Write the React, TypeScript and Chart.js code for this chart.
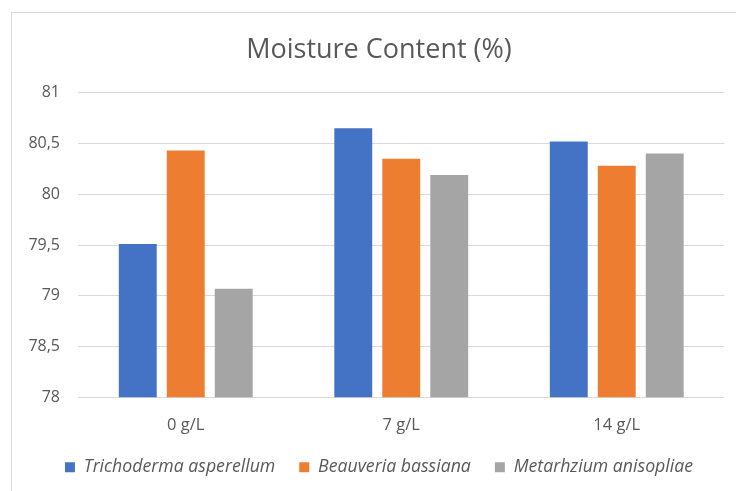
import React, { useEffect, useRef } from "react";
import { Chart, registerables } from "chart.js";

Chart.register(...registerables);

const categories = ["0 g/L", "7 g/L", "14 g/L"];
const seriesNames = ["Trichoderma asperellum", "Beauveria bassiana", "Metarhzium anisopliae"];
const trichoderma = [79.51, 80.65, 80.52];
const beauveria = [80.43, 80.35, 80.28];
const metarhizium = [79.07, 80.19, 80.4];
const seriesColors = ["#4472C4", "#ED7D31", "#A5A5A5"];
const yMin = 78;
const yMax = 81;
const yStep = 0.5;

const FONT = "'Open Sans', sans-serif";
const TEXT = "#595959";

export default function App() {
  const ref = useRef<HTMLCanvasElement | null>(null);

  useEffect(() => {
    if (!ref.current) return;
    const chart = new Chart(ref.current, {
      type: "bar",
      data: {
        labels: categories,
        datasets: [trichoderma, beauveria, metarhizium].map((d, i) => ({
          label: seriesNames[i],
          data: d,
          backgroundColor: seriesColors[i],
          borderWidth: 0,
          categoryPercentage: 0.668,
          barPercentage: 0.79,
        })),
      },
      options: {
        responsive: false,
        animation: false,
        layout: { padding: { left: 0, right: 0, top: 0, bottom: 26.8 } },
        plugins: {
          title: {
            display: true,
            text: "Moisture Content (%)",
            color: TEXT,
            font: { family: FONT, size: 27, weight: "normal", lineHeight: 1.2 },
            padding: { top: 20.8, bottom: 26.5 },
          },
          legend: {
            position: "bottom",
            labels: {
              boxWidth: 10,
              boxHeight: 10,
              padding: 24,
              color: TEXT,
              font: { family: FONT, size: 17.7, style: "italic" },
            },
          },
          tooltip: { enabled: false },
        },
        scales: {
          x: {
            grid: { display: false, drawTicks: false },
            border: { display: false },
            ticks: { color: TEXT, padding: 18, font: { family: FONT, size: 16.5 } },
            afterFit: (s: any) => {
              s.height = 37.2;
            },
          },
          y: {
            min: yMin,
            max: yMax,
            grid: { color: "#D9D9D9", lineWidth: 1, drawTicks: false },
            border: { display: false },
            ticks: {
              stepSize: yStep,
              color: TEXT,
              padding: 18,
              font: { family: FONT, size: 16 },
              callback: (v: any) => String(v).replace(".", ","),
            },
            afterFit: (s: any) => {
              s.width = 66;
            },
          },
          yRight: {
            position: "right",
            display: true,
            grid: { display: false, drawTicks: false },
            border: { display: false },
            ticks: { display: false },
            afterFit: (s: any) => {
              s.width = 21.5;
            },
          },
        },
      },
    });
    return () => chart.destroy();
  }, []);

  return (
    <div
      style={{
        position: "fixed",
        left: 0,
        top: 0,
        width: 736,
        height: 491,
        overflow: "hidden",
        background: "#fff",
      }}
    >
      <div
        style={{
          position: "absolute",
          left: 11,
          top: 12,
          width: 734,
          height: 500,
          border: "1px solid #D9D9D9",
        }}
      >
        <canvas ref={ref} width={734} height={500} style={{ display: "block" }} />
      </div>
    </div>
  );
}
